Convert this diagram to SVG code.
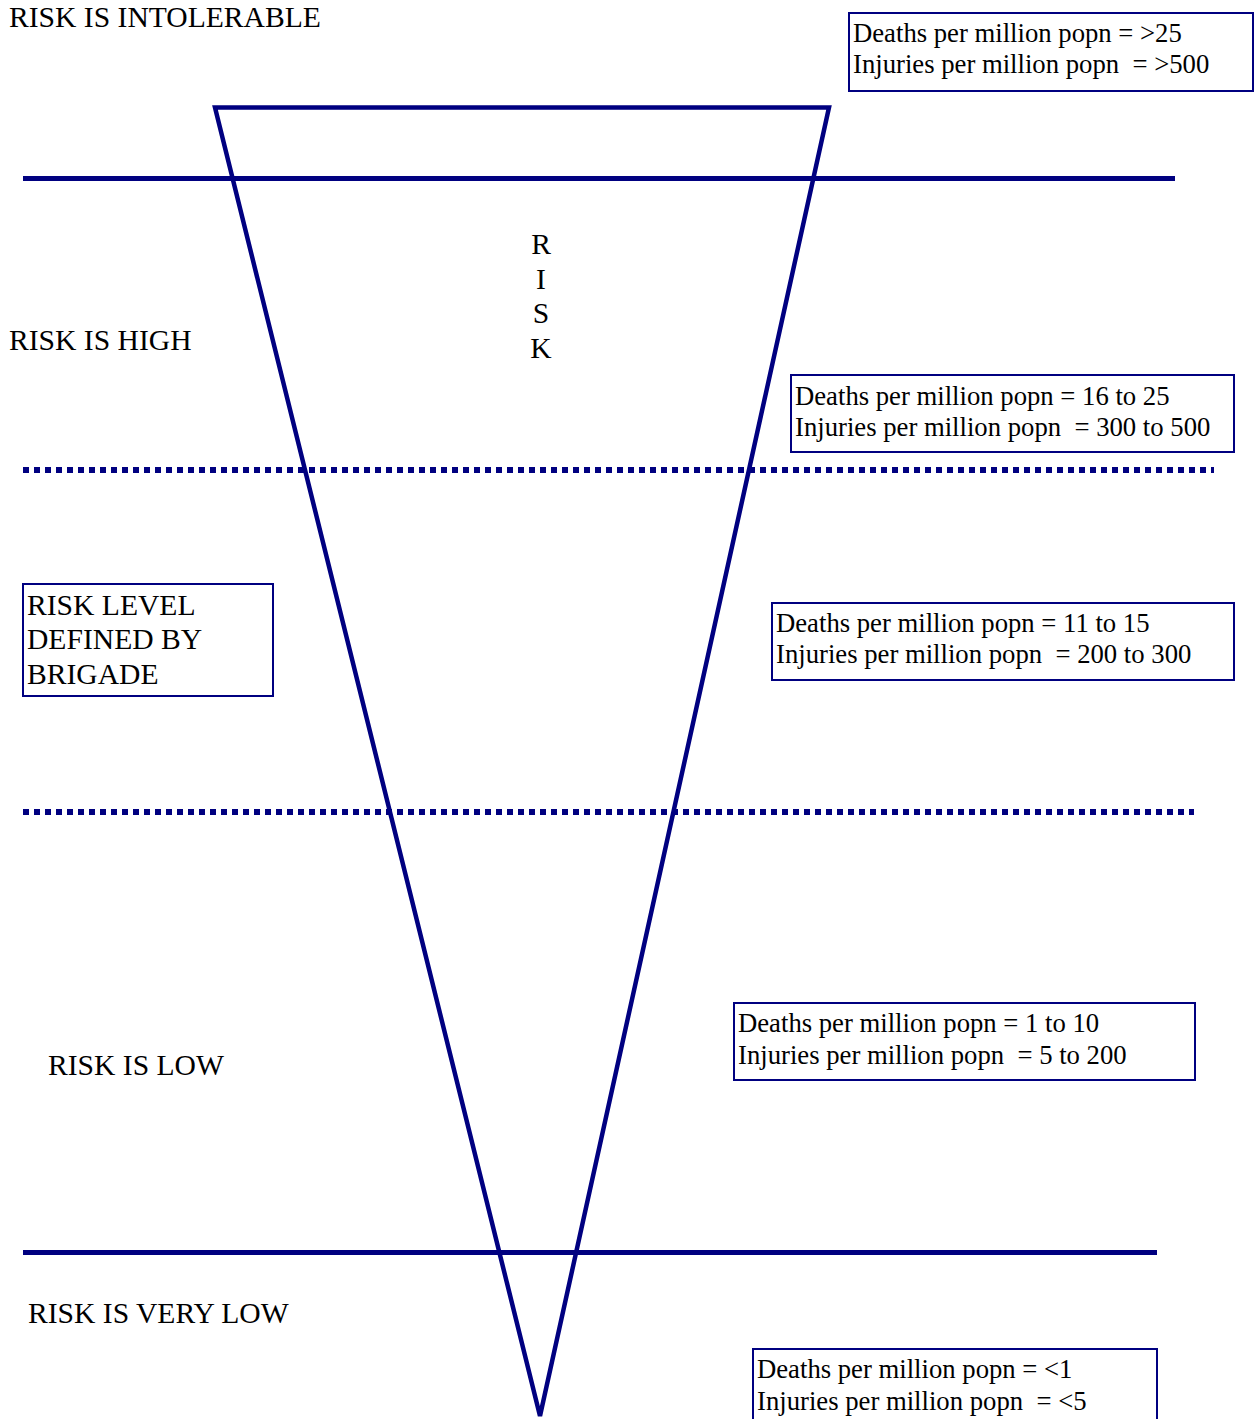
<svg xmlns="http://www.w3.org/2000/svg" width="1260" height="1419" viewBox="0 0 1260 1419">
  <style>
    .lbl { font-family: "Liberation Serif", "Times New Roman", serif; font-size: 29.6px; fill: #000; }
    .val { font-family: "Liberation Serif", "Times New Roman", serif; font-size: 26.7px; fill: #000; white-space: pre; }
    .box { fill: #fff; stroke: #000080; stroke-width: 2; }
    .solid { stroke: #000080; stroke-width: 5; fill: none; }
    .dotted { stroke: #000080; stroke-width: 6; stroke-dasharray: 6 5; fill: none; }
    .cone { stroke: #000080; stroke-width: 4.5; fill: none; stroke-linejoin: miter; }
  </style>
  <rect width="1260" height="1419" fill="#fff"/>

  <!-- band boundaries -->
  <g id="connectors">
    <line class="solid" x1="23" y1="178.5" x2="1175" y2="178.5"/>
    <line class="dotted" x1="23" y1="470" x2="1214" y2="470"/>
    <line class="dotted" x1="23" y1="812" x2="1194" y2="812"/>
    <line class="solid" x1="23" y1="1252.5" x2="1157" y2="1252.5"/>
  </g>

  <!-- inverted risk cone -->
  <g id="cone">
    <polygon class="cone" points="215,107.5 829,107.5 540,1416"/>
  </g>

  <g id="risk-word">
    <text class="lbl" text-anchor="middle" x="541" y="254">R</text>
    <text class="lbl" text-anchor="middle" x="541" y="289">I</text>
    <text class="lbl" text-anchor="middle" x="541" y="323">S</text>
    <text class="lbl" text-anchor="middle" x="541" y="358">K</text>
  </g>

  <!-- band labels -->
  <g id="label-intolerable"><text class="lbl" x="9" y="27">RISK IS INTOLERABLE</text></g>
  <g id="label-high"><text class="lbl" x="9" y="350">RISK IS HIGH</text></g>
  <g id="label-low"><text class="lbl" x="48" y="1075">RISK IS LOW</text></g>
  <g id="label-very-low"><text class="lbl" x="28" y="1323">RISK IS VERY LOW</text></g>

  <g id="brigade-box">
    <rect class="box" x="23" y="584" width="250" height="112"/>
    <text class="lbl" x="27" y="615">RISK LEVEL</text>
    <text class="lbl" x="27" y="649">DEFINED BY</text>
    <text class="lbl" x="27" y="684">BRIGADE</text>
  </g>

  <!-- threshold boxes -->
  <g id="thresh-intolerable">
    <rect class="box" x="849" y="13" width="404" height="78"/>
    <text class="val" x="853" y="42">Deaths per million popn = &gt;25</text>
    <text class="val" x="853" y="73">Injuries per million popn  = &gt;500</text>
  </g>
  <g id="thresh-high">
    <rect class="box" x="791" y="375" width="443" height="77"/>
    <text class="val" x="795" y="405">Deaths per million popn = 16 to 25</text>
    <text class="val" x="795" y="436">Injuries per million popn  = 300 to 500</text>
  </g>
  <g id="thresh-brigade">
    <rect class="box" x="772" y="603" width="462" height="77"/>
    <text class="val" x="776" y="632">Deaths per million popn = 11 to 15</text>
    <text class="val" x="776" y="663">Injuries per million popn  = 200 to 300</text>
  </g>
  <g id="thresh-low">
    <rect class="box" x="734" y="1003" width="461" height="77"/>
    <text class="val" x="738" y="1032">Deaths per million popn = 1 to 10</text>
    <text class="val" x="738" y="1064">Injuries per million popn  = 5 to 200</text>
  </g>
  <g id="thresh-very-low">
    <rect class="box" x="753" y="1349" width="404" height="80"/>
    <text class="val" x="757" y="1378">Deaths per million popn = &lt;1</text>
    <text class="val" x="757" y="1410">Injuries per million popn  = &lt;5</text>
  </g>
</svg>
